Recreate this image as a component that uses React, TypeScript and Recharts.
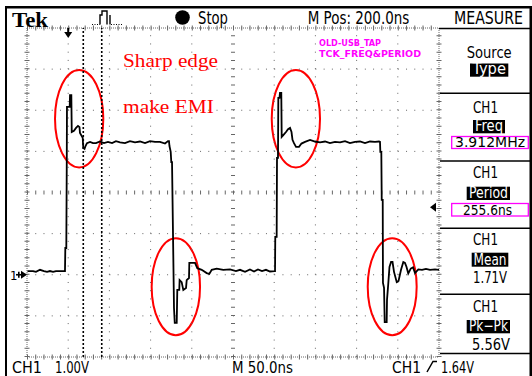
import React from 'react';
import { LineChart, Line, XAxis, YAxis, ReferenceLine, ReferenceArea, ReferenceDot } from 'recharts';

// CH1 trace: time in ns (0..500, 50ns/div), volts (1V/div)
const timeNs = [
  // low before first edge
  0.6, 7.3, 10.9, 15.8, 20.6, 24.3, 27.9, 31.6, 35.2, 40.1, 45.5,
  // rising edge 1 + overshoot
  46.1, 46.5, 47.7, 48.2, 48.5, 51.8, 52.2, 53.8, 54.3, 57.0, 59.5, 61.9, 63.7, 64.3, 67.6, 68.3, 69.8, 71.0, 72.8, 76.5, 80.1,
  // high
  83.7, 88.6, 93.4, 98.3, 103.2, 108.0, 112.9, 118.9, 125.0, 131.1, 137.1, 143.2, 149.3, 155.3, 161.4, 167.5, 171.1,
  // falling edge 1 + undershoot
  172.3, 172.9, 174.4, 175.1, 176.0, 177.2, 178.4, 179.3, 181.7, 182.4, 184.8, 185.2, 187.7, 189.7, 193.0, 193.8, 196.6, 197.0, 203.9, 206.7, 212.0, 218.1, 221.2, 224.2, 230.2, 238.2, 246.4,
  // low
  253.6, 258.5, 264.6, 270.6, 275.5, 280.3, 285.2, 290.0, 294.9, 300.4,
  // rising edge 2
  301.0, 301.3, 303.0, 303.4, 304.6, 305.0, 306.4, 307.0, 308.6, 309.1, 311.3, 314.3, 316.8, 319.2, 321.0, 322.2, 324.0, 326.5, 330.1, 333.1, 337.4, 343.5, 349.5, 355.6,
  // high
  361.7, 367.7, 373.8, 379.9, 385.9, 392.0, 398.1, 404.1, 410.2, 416.3, 422.3, 427.2,
  // falling edge 2
  428.4, 428.8, 430.0, 430.5, 431.7, 432.0, 433.3, 434.1, 436.5, 436.9, 438.5, 439.9, 441.8, 443.6, 445.4, 448.7, 450.9, 453.9, 456.7, 458.7, 460.6, 462.7, 465.7, 468.5, 470.9, 474.9, 479.4, 484.2, 489.1, 495.2, 500.0,
];

const ch1Volts = [
  0.09, 0.09, 0.07, 0.12, 0.09, 0.07, 0.09, 0.07, 0.09, 0.09, 0.09,
  0.09, 0.65, 0.65, 2.50, 4.08, 4.08, 4.37, 4.37, 3.47, 3.50, 3.57, 3.62, 3.59, 3.45, 3.33, 3.08, 3.06, 3.13, 3.20, 3.23, 3.20,
  3.20, 3.24, 3.20, 3.23, 3.20, 3.25, 3.22, 3.20, 3.25, 3.22, 3.24, 3.20, 3.25, 3.23, 3.23, 3.19, 3.25,
  3.25, 3.13, 2.99, 2.74, 2.74, 0.97, -0.81, -1.17, -1.17, -0.37, -0.37, -0.13, -0.18, -0.37, -0.32, -0.13, -0.08, 0.29, 0.29, 0.16, 0.12, 0.04, 0.02, 0.12, 0.15, 0.12, 0.13,
  0.09, 0.12, 0.07, 0.13, 0.08, 0.13, 0.09, 0.12, 0.08, 0.09,
  0.09, 0.92, 0.92, 2.84, 2.84, 4.30, 4.30, 4.42, 4.42, 3.35, 3.40, 3.47, 3.54, 3.57, 3.47, 3.28, 3.20, 3.11, 3.11, 3.19, 3.23, 3.28, 3.24, 3.22,
  3.24, 3.20, 3.23, 3.22, 3.25, 3.20, 3.23, 3.24, 3.20, 3.24, 3.23, 3.24,
  3.23, 2.99, 2.99, 1.82, 1.82, -0.20, -0.32, -1.15, -1.15, -0.61, -0.20, 0.19, 0.31, 0.31, 0.07, -0.18, -0.15, 0.12, 0.31, 0.29, 0.19, 0.03, 0.15, 0.18, 0.04, 0.13, 0.12, 0.14, 0.12, 0.13, 0.12,
];

const gridTimes = [50, 100, 150, 200, 300, 350, 400, 450];
const gridVolts = [-1, 0, 1, 3, 4, 5];
const centerTime = 250;
const centerVolt = 2;
const edgeTimes = [0, 500];
const edgeVolts = [-2, 6];
const cursorTimes = [68.3, 90.7];
const triggerTime = 50;
const triggerLevel = 1.64;

// hand-drawn red rings around the ringing (t1, t2 in ns, v1, v2 in V)
const ringT1 = [34.0, 151.3, 297.0, 413.5];
const ringT2 = [92.6, 210.0, 355.6, 472.9];
const ringV1 = [2.61, -1.47, 2.61, -1.47];
const ringV2 = [4.98, 0.89, 4.98, 0.89];

const traceData = timeNs.map((t, i) => ({ t, v: ch1Volts[i] }));

const SCOPE = "'Liberation Sans Narrow', 'DejaVu Sans Condensed', 'Liberation Sans', Arial, sans-serif";
const SERIF = "'Liberation Serif', 'DejaVu Serif', serif";

const T = ({ x, y, w, size = 16, fill = '#000', family = SCOPE, weight = 400, children }: any) => (
  <text x={x} y={y} textLength={w} lengthAdjust="spacingAndGlyphs" fontSize={size} fontFamily={family} fontWeight={weight} fill={fill}>
    {children}
  </text>
);

const Inv = ({ x, y, w, h, tx, tw, ty, children }: any) => (
  <g>
    <rect x={x} y={y} width={w} height={h} fill="#000" />
    <T x={tx} y={ty} w={tw} size={15} fill="#fff">{children}</T>
  </g>
);

const ellipseShape = (p: any) => (
  <ellipse cx={p.x + p.width / 2} cy={p.y + p.height / 2} rx={p.width / 2} ry={p.height / 2} fill="none" stroke="#f00" strokeWidth={2} />
);

const trigPosShape = (p: any) => (
  <g fill="#000">
    <rect x={p.cx - 1} y={p.cy} width={2} height={5} />
    <path d={`M${p.cx - 4},${p.cy + 4} L${p.cx + 4},${p.cy + 4} L${p.cx},${p.cy + 10} Z`} />
  </g>
);

const groundShape = (p: any) => (
  <g fill="#000">
    <text x={p.cx - 17} y={p.cy + 5} fontSize={13} fontFamily={SCOPE}>1</text>
    <rect x={p.cx - 11} y={p.cy - 0.8} width={6} height={1.6} />
    <rect x={p.cx - 9} y={p.cy - 3} width={1.6} height={6} />
    <path d={`M${p.cx - 6},${p.cy - 4} L${p.cx},${p.cy} L${p.cx - 6},${p.cy + 4} Z`} />
  </g>
);

const trigLevelShape = (p: any) => (
  <path d={`M${p.cx - 9},${p.cy} L${p.cx - 3},${p.cy - 4.5} L${p.cx - 3},${p.cy + 4.5} Z`} fill="#000" />
);

const DOT = '#666';

export default function App() {
  return (
    <div style={{ position: 'absolute', left: 0, top: 0, width: 532, height: 376, background: '#fff' }}>
      <LineChart width={532} height={376} data={traceData} margin={{ top: 28, right: 93, bottom: 19, left: 27 }}>
        <XAxis type="number" dataKey="t" domain={[0, 500]} hide />
        <YAxis type="number" domain={[-2, 6]} hide />
        {gridTimes.map((t) => (
          <ReferenceLine key={'gx' + t} x={t} stroke={DOT} strokeDasharray="1 7.225" />
        ))}
        {gridVolts.map((v) => (
          <ReferenceLine key={'gy' + v} y={v} stroke={DOT} strokeDasharray="1 7.24" />
        ))}
        <ReferenceLine x={centerTime} stroke={DOT} strokeWidth={4} strokeDasharray="1 7.225" />
        <ReferenceLine y={centerVolt} stroke={DOT} strokeWidth={4} strokeDasharray="1 7.24" />
        {edgeTimes.map((t) => (
          <ReferenceLine key={'ex' + t} x={t} stroke={DOT} strokeDasharray="1 1" />
        ))}
        {edgeVolts.map((v) => (
          <ReferenceLine key={'ey' + v} y={v} stroke={DOT} strokeDasharray="1 1" />
        ))}
        {edgeTimes.map((t) => (
          <ReferenceLine key={'tx' + t} x={t} stroke={DOT} strokeWidth={5} strokeDasharray="1 7.225" />
        ))}
        {edgeVolts.map((v) => (
          <ReferenceLine key={'ty' + v} y={v} stroke={DOT} strokeWidth={5} strokeDasharray="1 7.24" />
        ))}
        {cursorTimes.map((t) => (
          <ReferenceLine key={'c' + t} x={t} stroke="#000" strokeWidth={1.6} strokeDasharray="2 2" />
        ))}
        <Line type="linear" dataKey="v" stroke="#000" strokeWidth={1.8} dot={false} isAnimationActive={false} />
        {ringT1.map((t1, i) => (
          <ReferenceArea key={'r' + i} x1={t1} x2={ringT2[i]} y1={ringV1[i]} y2={ringV2[i]} shape={ellipseShape} />
        ))}
        <ReferenceDot x={triggerTime} y={6} shape={trigPosShape} />
        <ReferenceDot x={0} y={0} shape={groundShape} />
        <ReferenceDot x={500} y={triggerLevel} shape={trigLevelShape} />
      </LineChart>

      <svg width={532} height={376} style={{ position: 'absolute', left: 0, top: 0, pointerEvents: 'none' }}>
        {/* frame */}
        <rect x={6} y={6} width={526} height={2.5} fill="#000" />
        <rect x={5} y={6} width={2} height={370} fill="#000" />
        <rect x={529.5} y={6} width={2.5} height={370} fill="#000" />

        {/* header */}
        <T x={12} y={26.5} w={36} size={22} family={SERIF} weight={700}>Tek</T>
        <path d="M92,24.5 H100" stroke="#000" strokeWidth={1.2} strokeDasharray="1 1.5" />
        <path d="M100,24.5 V15 H102 V11 H107 V24.5 M110,15 V24.5" stroke="#000" strokeWidth={1.4} fill="none" />
        <path d="M111,24.5 H122" stroke="#000" strokeWidth={1.2} strokeDasharray="1 1.5" />
        <circle cx={182.5} cy={17.5} r={7.3} fill="#000" />
        <T x={198} y={24} w={30} size={17}>Stop</T>
        <T x={307.7} y={24} w={101.6} size={17}>M Pos: 200.0ns</T>
        <T x={454} y={24} w={69} size={17}>MEASURE</T>

        {/* annotations */}
        <T x={123} y={67} w={95} size={19} family={SERIF} fill="#f00">Sharp edge</T>
        <T x={123} y={113} w={91} size={19} family={SERIF} fill="#f00">make EMI</T>
        <T x={319} y={46} w={62} size={9} weight={700} fill="#f0f">OLD-USB_TAP</T>
        <T x={319} y={56.5} w={102} size={9} weight={700} fill="#f0f">TCK_FREQ&amp;PERIOD</T>

        {/* measure panel */}
        <g stroke="#000" strokeWidth={1.5}>
          <line x1={439} y1={28.5} x2={530} y2={28.5} />
          <line x1={440} y1={93.3} x2={530} y2={93.3} />
          <line x1={440} y1={161} x2={530} y2={161} />
          <line x1={440} y1={228.3} x2={530} y2={228.3} />
          <line x1={440} y1={294.3} x2={530} y2={294.3} />
          <line x1={440} y1={353.5} x2={530} y2={353.5} />
        </g>
        <T x={466.7} y={57.5} w={45}>Source</T>
        <Inv x={470} y={63.5} w={38.3} h={13.2} tx={472.5} ty={74} tw={33.5}>Type</Inv>

        <T x={473} y={113.3} w={25}>CH1</T>
        <Inv x={473} y={120} w={32} h={13.3} tx={475} ty={130.5} tw={28}>Freq</Inv>
        <rect x={451.7} y={136.5} width={76.6} height={12} fill="none" stroke="#f0f" strokeWidth={1.3} />
        <T x={455} y={146.8} w={70} size={14}>3.912MHz</T>

        <T x={473} y={178.3} w={25}>CH1</T>
        <Inv x={466.7} y={186.7} w={43.3} h={13.3} tx={469} ty={197.5} tw={39}>Period</Inv>
        <rect x={451.7} y={203.5} width={76.6} height={12.5} fill="none" stroke="#f0f" strokeWidth={1.3} />
        <T x={463} y={214.5} w={49} size={14}>255.6ns</T>

        <T x={473} y={245} w={25}>CH1</T>
        <Inv x={471.7} y={252.7} w={36.6} h={14} tx={473.5} ty={264.5} tw={33}>Mean</Inv>
        <T x={473} y={283.3} w={34}>1.71V</T>

        <T x={473} y={312} w={25}>CH1</T>
        <Inv x={466.7} y={320} w={43.3} h={13.3} tx={469} ty={331} tw={39}>Pk−Pk</Inv>
        <T x={472} y={350} w={38}>5.56V</T>

        {/* footer */}
        <T x={12} y={372.5} w={30} size={16}>CH1</T>
        <T x={55} y={372.5} w={34} size={16}>1.00V</T>
        <T x={232} y={372.5} w={61} size={16}>M 50.0ns</T>
        <T x={392} y={372.5} w={29} size={16}>CH1</T>
        <path d="M427,372 L433,361.5 H437" stroke="#000" strokeWidth={1.5} fill="none" />
        <T x={441} y={372.5} w={33} size={16}>1.64V</T>
      </svg>
    </div>
  );
}
